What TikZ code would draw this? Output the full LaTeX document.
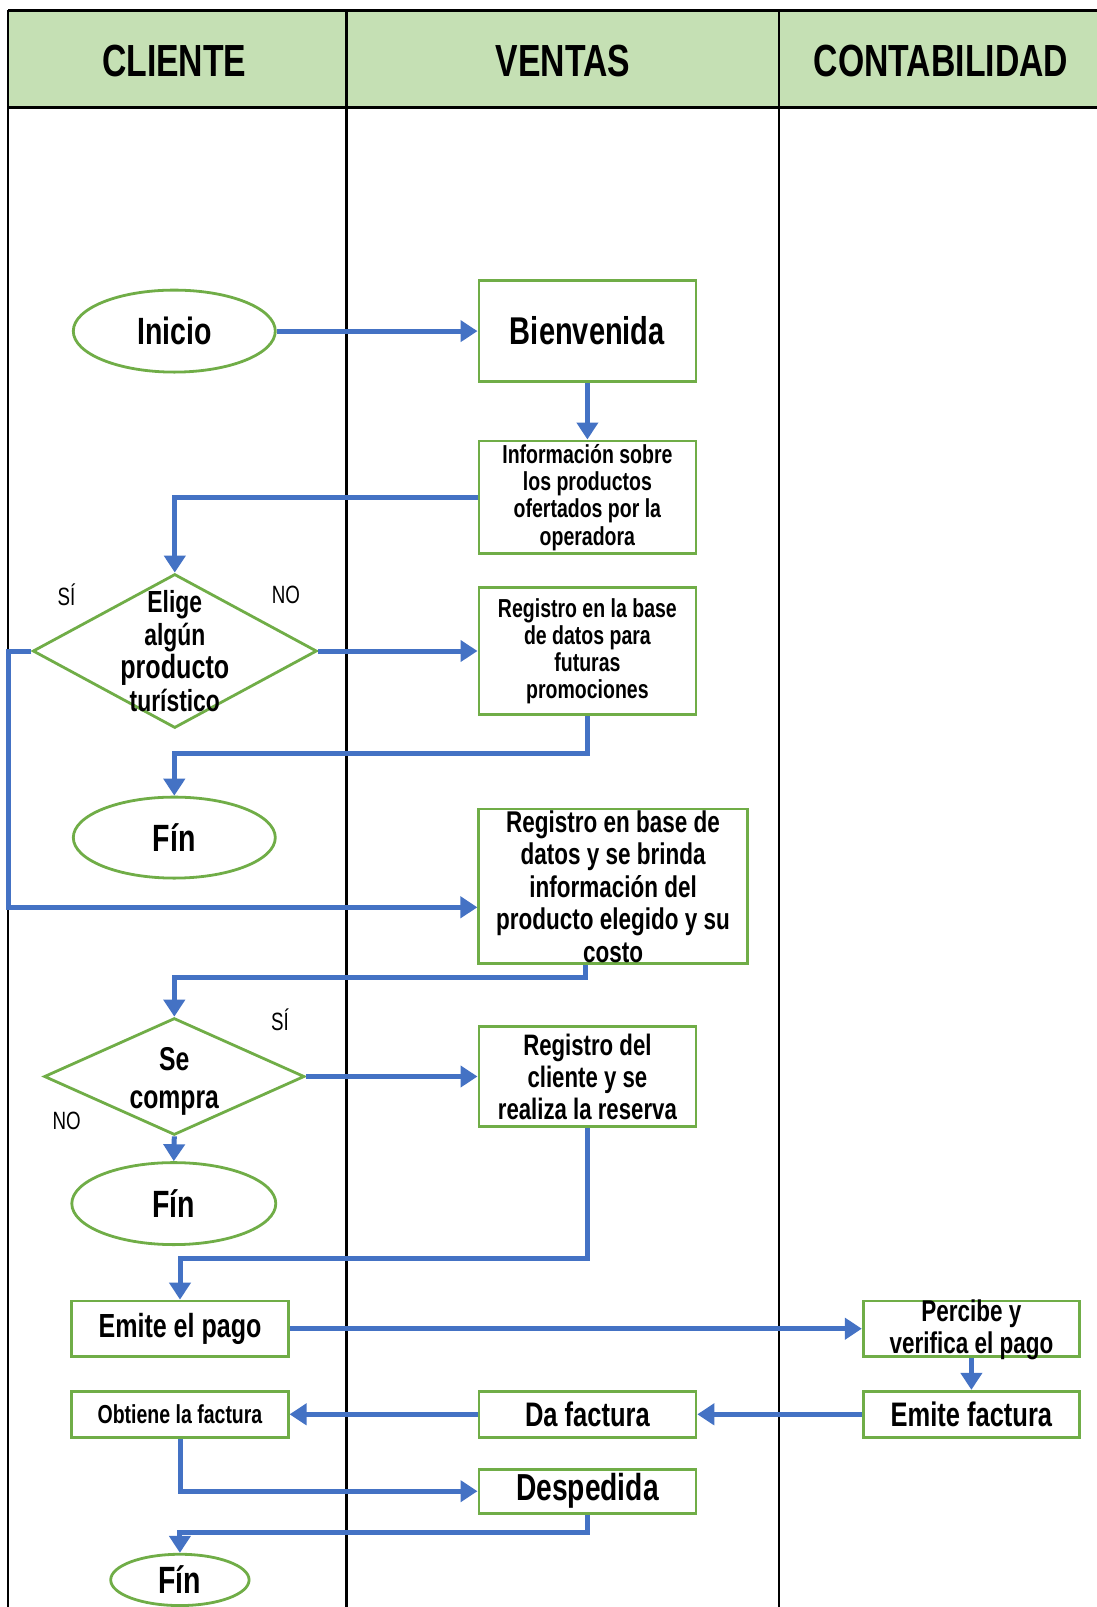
\documentclass[tikz,border=0pt]{standalone}
\usepackage{fontspec}
\setmainfont{Liberation Sans}[FakeStretch=0.75]
\usetikzlibrary{shapes.geometric,arrows.meta}
\definecolor{hdrgreen}{HTML}{C5E0B4}
\definecolor{boxgreen}{HTML}{70AD47}
\definecolor{flowblue}{HTML}{4472C4}

\begin{document}
\begin{tikzpicture}[x=1pt,y=-1pt,
	lane/.style={draw=black,line width=2.5pt},
	hdr/.style={font=\bfseries\fontsize{45}{50}\selectfont},
	proc/.style={draw=boxgreen,line width=2.8pt,fill=white,inner sep=0pt,align=center,minimum width=217pt},
	term/.style={ellipse,draw=boxgreen,line width=2.8pt,fill=white,inner sep=0pt,font=\bfseries\fontsize{38}{40}\selectfont},
	dec/.style={diamond,draw=boxgreen,line width=2.8pt,fill=white,inner sep=0pt},
	txt/.style={align=center,inner sep=0pt},
	ans/.style={font=\fontsize{25}{28}\selectfont},
	flow/.style={draw=flowblue,line width=5pt,-{Triangle[length=17pt,width=21pt]}}]
	\useasboundingbox (0,0) rectangle (1097,1607);
	% lanes
	\fill[hdrgreen] (8.2,10.3) rectangle (1097,107.6);
	\draw[lane] (8.2,10.3) -- (1097,10.3);
	\draw[lane,line width=3.5pt] (8.2,107.6) -- (1097,107.6);
	\foreach \x in {8.2,346.5,779.2}
		\draw[lane] (\x,10.3) -- (\x,1607);
	\foreach \x/\t/\n in {174.3/CLIENTE/cli, 562.8/VENTAS/ven, 941/CONTABILIDAD/con}
		\node[hdr] at (\x,61.5) (\n) {\t};

	% nodes
	\node[term,minimum width=202pt,minimum height=82pt] at (174.3,331.1) (inicio) {Inicio};
	\node[proc,minimum height=100.5pt,font=\bfseries\fontsize{38.7}{40}\selectfont] at (587.4,331.1) (bienv) {Bienvenida};
	\node[proc,minimum height=112.8pt,font=\bfseries\fontsize{26}{27.4}\selectfont] at (587.4,497.3) (info) {Información sobre\\los productos\\ofertados por la\\operadora};
	\node[dec,minimum width=284pt,minimum height=154pt] at (174.8,651) (d1) {};
	\node[txt,font=\bfseries\fontsize{30.5}{33}\selectfont] at (d1) (d1t) {Elige\\algún\\{\fontsize{33.5}{33}\selectfont producto}\\turístico};
	\node[proc,minimum height=127pt,font=\bfseries\fontsize{26}{27}\selectfont] at (587.4,651) (reg1) {Registro en la base\\de datos para\\futuras\\promociones};
	\node[term,minimum width=202pt,minimum height=81pt] at (174.3,837.6) (fin1) {Fín};
	\node[proc,minimum width=268.6pt,minimum height=154.8pt] at (613.1,886.3) (reg2) {};
	\node[txt,font=\bfseries\fontsize{30}{32.5}\selectfont] at (reg2) (reg2t) {Registro en base de\\datos y se brinda\\información del\\producto elegido y su\\costo};
	\node[dec,minimum width=260.4pt,minimum height=116.9pt] at (174.3,1076.5) (d2) {};
	\node[txt,font=\bfseries\fontsize{33}{38}\selectfont] at (174.3,1081) (d2t) {Se\\compra};
	\node[proc,minimum height=100.5pt,font=\bfseries\fontsize{29.6}{32}\selectfont] at (587.4,1076.5) (reg3) {Registro del\\cliente y se\\realiza la reserva};
	\node[term,minimum width=204pt,minimum height=82pt] at (173.8,1203.6) (fin2) {Fín};
	\node[proc,minimum width=216.3pt,minimum height=55.4pt,font=\bfseries\fontsize{33.4}{36}\selectfont] at (180,1328.7) (pago) {Emite el pago};
	\node[proc,minimum width=216.3pt,minimum height=55.4pt] at (971.4,1328.7) (percibe) {};
	\node[txt,font=\bfseries\fontsize{30}{32.8}\selectfont] at (971.4,1329.7) (percibet) {Percibe y\\verifica el pago};
	\node[proc,minimum width=216.3pt,minimum height=46.1pt,font=\bfseries\fontsize{26}{28}\selectfont] at (180,1414.3) (obtiene) {Obtiene la factura};
	\node[proc,minimum height=46.1pt,font=\bfseries\fontsize{34}{36}\selectfont] at (587.4,1414.3) (dafact) {Da factura};
	\node[proc,minimum width=216.3pt,minimum height=46.1pt,font=\bfseries\fontsize{34}{36}\selectfont] at (971.4,1414.3) (emitefact) {Emite factura};
	\node[proc,minimum height=44.1pt,font=\bfseries\fontsize{37.6}{40}\selectfont] at (587.4,1491.2) (desped) {Despedida};
	\node[term,minimum width=138.4pt,minimum height=51.3pt] at (179.9,1579.9) (fin3) {Fín};

	% answers
	\node[ans] at (66.6,594.6) (si1) {SÍ};
	\node[ans] at (286,594.6) (no1) {NO};
	\node[ans] at (280,1020) (si2) {SÍ};
	\node[ans] at (66.6,1120.6) (no2) {NO};

	% flow
	\coordinate (c1) at (587.4,753.5);
	\coordinate (c2) at (8.2,907.3);
	\coordinate (c3) at (585.4,977);
	\coordinate (c4) at (587.4,1258);
	\coordinate (c5) at (587.4,1532.7);
	\draw[flow] (inicio.east) -- (bienv.west);
	\draw[flow] (bienv.south) -- (info.north);
	\draw[flow] (info.west) -| (d1.north);
	\draw[flow] (d1.east) -- (reg1.west);
	\draw[flow] (reg1.south) -- (c1) -| (fin1.north);
	\draw[flow] (d1.west) -| (c2) -- (c2 -| reg2.west);
	\draw[flow] (c3 |- reg2.south) -- (c3) -| (d2.north);
	\draw[flow] (d2.east) -- (reg3.west);
	\draw[flow] (d2.south) -- (fin2.north);
	\draw[flow] (reg3.south) -- (c4) -| (pago.north);
	\draw[flow] (pago.east) -- (percibe.west);
	\draw[flow] (percibe.south) -- (emitefact.north);
	\draw[flow] (emitefact.west) -- (dafact.east);
	\draw[flow] (dafact.west) -- (obtiene.east);
	\draw[flow] (obtiene.south) |- (desped.west);
	\draw[flow] (desped.south) -- (c5) -| (fin3.north);
\end{tikzpicture}
\end{document}
